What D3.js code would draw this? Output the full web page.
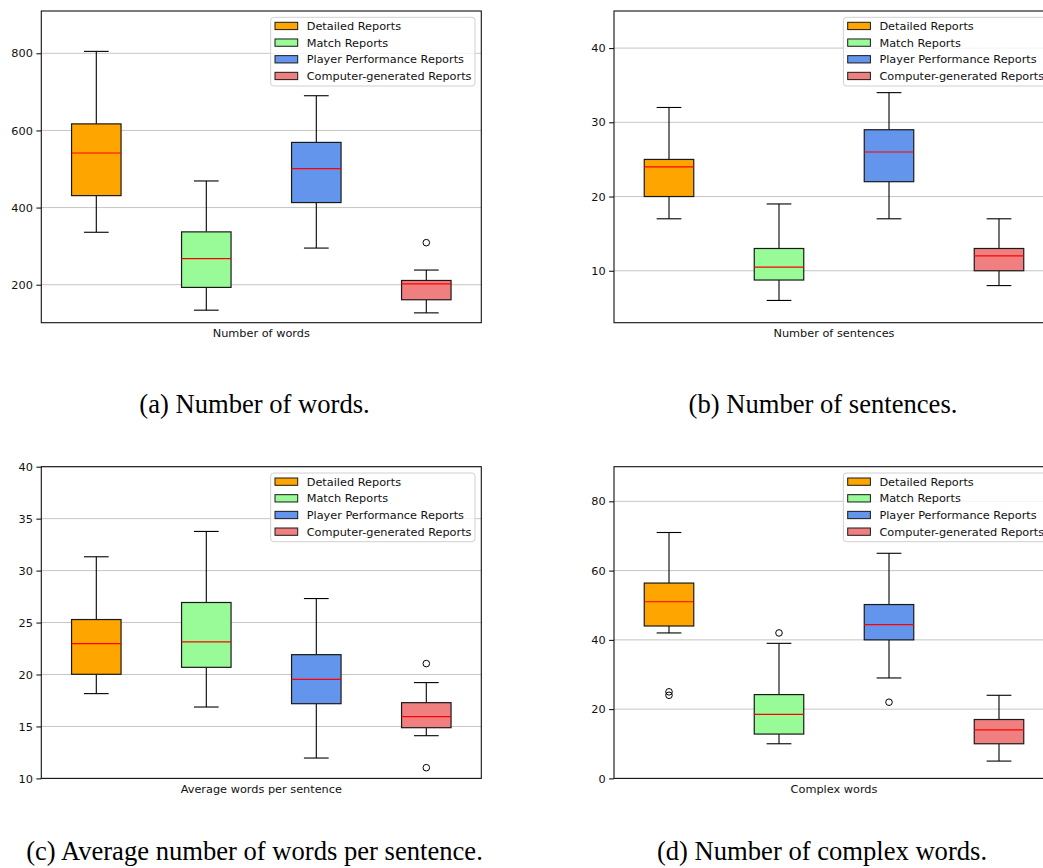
<!DOCTYPE html>
<html>
<head>
<meta charset="utf-8">
<script src="https://cdn.jsdelivr.net/npm/d3@7"></script>
<style>
  body { margin: 0; background: #fff; }
  svg { display: block; }
  .tick text, .lbl, .leg { font-family: "DejaVu Sans", sans-serif; }
  .cap { font-family: "Liberation Serif", "Times New Roman", serif; }
</style>
</head>
<body>
<svg id="fig" width="1043" height="868"></svg>
<script>
// Report types shown in every panel
const categories = ["Detailed Reports", "Match Reports", "Player Performance Reports", "Computer-generated Reports"];
const fillColors = ["#ffa500", "#98fb98", "#6495ed", "#f08080"];

// Box summaries per report type: [lower whisker, Q1, median, Q3, upper whisker]
const wordsStats = [[336, 431, 541.5, 617, 805], [134, 193, 267.5, 337, 469], [295, 413, 501, 569, 690], [127, 161, 202, 211, 238]];
const wordsOutliers = [[], [], [], [309]];
const wordsTicks = [200, 400, 600, 800];

const sentencesStats = [[17, 20, 24, 25, 32], [6, 8.75, 10.5, 13, 19], [17, 22, 26, 29, 34], [8, 10, 12, 13, 17]];
const sentencesOutliers = [[], [], [], []];
const sentencesTicks = [10, 20, 30, 40];

const avgWordsStats = [[18.16, 20.02, 22.98, 25.29, 31.33], [16.87, 20.69, 23.14, 26.93, 33.77], [11.96, 17.19, 19.54, 21.91, 27.31], [14.11, 14.88, 15.94, 17.29, 19.22]];
const avgWordsOutliers = [[], [], [], [21.05, 11.03]];
const avgWordsTicks = [10, 15, 20, 25, 30, 35, 40];

const complexStats = [[42, 44, 51, 56.4, 71], [10, 12.8, 18.5, 24.2, 39], [29, 40, 44.4, 50.2, 65], [5, 10, 14, 17, 24]];
const complexOutliers = [[25, 24], [42], [22], []];
const complexTicks = [0, 20, 40, 60, 80];

const panels = [
  { stats: wordsStats, outliers: wordsOutliers, ticks: wordsTicks, domain: [101.5, 909.7],
    xlabel: "Number of words", caption: "(a) Number of words.",
    left: 41.3, top: 11, capX: 254.5, capY: 413 },
  { stats: sentencesStats, outliers: sentencesOutliers, ticks: sentencesTicks, domain: [3.0, 45.0],
    xlabel: "Number of sentences", caption: "(b) Number of sentences.",
    left: 614, top: 11, capX: 823, capY: 413 },
  { stats: avgWordsStats, outliers: avgWordsOutliers, ticks: avgWordsTicks, domain: [10, 40],
    xlabel: "Average words per sentence", caption: "(c) Average number of words per sentence.",
    left: 41.3, top: 466.7, capX: 254.5, capY: 860 },
  { stats: complexStats, outliers: complexOutliers, ticks: complexTicks, domain: [0, 90],
    xlabel: "Complex words", caption: "(d) Number of complex words.",
    left: 614, top: 466.7, capX: 822, capY: 860 }
];

const W = 440, H = 311.7;
const FS = 11.3;
const svg = d3.select("#fig");

panels.forEach(p => {
  const g = svg.append("g").attr("transform", `translate(${p.left},${p.top})`);
  const x = d3.scaleLinear().domain([0.5, 4.5]).range([0, W]);
  const y = d3.scaleLinear().domain(p.domain).range([H, 0]);
  const bw = x(1.45) - x(1);

  // horizontal grid
  g.append("g").selectAll("line").data(p.ticks).join("line")
    .attr("x1", 0).attr("x2", W)
    .attr("y1", d => y(d)).attr("y2", d => y(d))
    .attr("stroke", "#c6c6c6").attr("stroke-width", 1);

  // boxes
  const boxes = g.append("g").selectAll("g").data(p.stats).join("g");
  boxes.each(function (s, i) {
    const b = d3.select(this);
    const cx = x(i + 1);
    const [lo, q1, med, q3, hi] = s;
    b.append("line").attr("x1", cx).attr("x2", cx).attr("y1", y(lo)).attr("y2", y(q1))
      .attr("stroke", "#000").attr("stroke-width", 1.1);
    b.append("line").attr("x1", cx).attr("x2", cx).attr("y1", y(q3)).attr("y2", y(hi))
      .attr("stroke", "#000").attr("stroke-width", 1.1);
    [lo, hi].forEach(v => {
      b.append("line").attr("x1", cx - bw / 4).attr("x2", cx + bw / 4)
        .attr("y1", y(v)).attr("y2", y(v))
        .attr("stroke", "#000").attr("stroke-width", 1.1);
    });
    b.append("rect").attr("x", cx - bw / 2).attr("y", y(q3))
      .attr("width", bw).attr("height", y(q1) - y(q3))
      .attr("fill", fillColors[i]).attr("stroke", "#1a1a1a").attr("stroke-width", 1.2);
    b.append("line").attr("x1", cx - bw / 2).attr("x2", cx + bw / 2)
      .attr("y1", y(med)).attr("y2", y(med))
      .attr("stroke", "#ff0000").attr("stroke-width", 1.2);
    b.selectAll("circle").data(p.outliers[i]).join("circle")
      .attr("cx", cx).attr("cy", d => y(d)).attr("r", 3.3)
      .attr("fill", "none").attr("stroke", "#000").attr("stroke-width", 1);
  });

  // y axis
  const ax = g.append("g").call(d3.axisLeft(y).tickValues(p.ticks).tickSize(4.9).tickPadding(3.5));
  ax.select(".domain").remove();
  ax.selectAll(".tick line").attr("stroke", "#000").attr("stroke-width", 1);
  ax.selectAll(".tick text").attr("font-size", FS).attr("fill", "#111");

  // frame
  g.append("rect").attr("x", 0).attr("y", 0).attr("width", W).attr("height", H)
    .attr("fill", "none").attr("stroke", "#111").attr("stroke-width", 1.1);

  // x label
  g.append("text").attr("class", "lbl").attr("x", W / 2).attr("y", H + 14.3)
    .attr("text-anchor", "middle").attr("font-size", FS).attr("fill", "#111")
    .text(p.xlabel);

  // legend
  const lg = g.append("g").attr("transform", `translate(${W - 210.6},6.3)`);
  lg.append("rect").attr("width", 204.3).attr("height", 68.7).attr("rx", 3)
    .attr("fill", "#fff").attr("fill-opacity", 0.8).attr("stroke", "#d0d0d0").attr("stroke-width", 1);
  categories.forEach((c, i) => {
    const cy = 8.7 + i * 16.67;
    lg.append("rect").attr("x", 4.3).attr("y", cy - 3.7).attr("width", 22.7).attr("height", 7.3)
      .attr("fill", fillColors[i]).attr("stroke", "#1a1a1a").attr("stroke-width", 1);
    lg.append("text").attr("class", "leg").attr("x", 36).attr("y", cy).attr("dy", "0.36em")
      .attr("font-size", FS).attr("fill", "#111").text(c);
  });

  // caption
  svg.append("text").attr("class", "cap").attr("x", p.capX).attr("y", p.capY)
    .attr("text-anchor", "middle").attr("font-size", 26.6).attr("fill", "#000")
    .text(p.caption);
});
</script>
</body>
</html>
